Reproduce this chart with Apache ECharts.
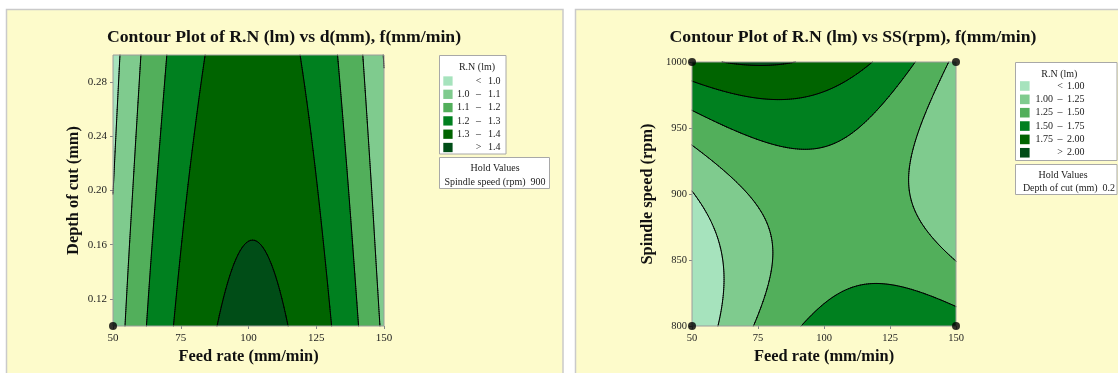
<!DOCTYPE html>
<html>
<head>
<meta charset="utf-8">
<script src="https://cdn.jsdelivr.net/npm/echarts@6/dist/echarts.min.js"></script>
<style>
  html, body { margin: 0; padding: 0; background: #ffffff; }
  #chart { width: 1118px; height: 373px; }
</style>
</head>
<body>
<div id="chart"></div>
<script>
// ---- Data -------------------------------------------------------------
// Feed rate nodes (mm/min), shared by both response grids
const feedRates = [50, 75, 100, 125, 150];

// Left plot: R.N (lm) over depth of cut x feed rate, spindle speed held at 900 rpm
const depthsOfCut = [0.10, 0.15, 0.20, 0.25, 0.30];
const rnByDepthFeed = [
  [1.036, 1.322, 1.425, 1.344, 1.079],   // d = 0.10 mm
  [1.018, 1.302, 1.405, 1.324, 1.058],   // d = 0.15 mm
  [0.999, 1.282, 1.385, 1.304, 1.038],   // d = 0.20 mm
  [0.981, 1.262, 1.364, 1.284, 1.017],   // d = 0.25 mm
  [0.963, 1.243, 1.344, 1.264, 0.996]    // d = 0.30 mm
];

// Right plot: R.N (lm) over spindle speed x feed rate, depth of cut held at 0.2 mm
const spindleSpeeds = [800, 850, 900, 950, 1000];
const rnBySpeedFeed = [
  [0.783, 1.278, 1.585, 1.704, 1.635],   // 800 rpm
  [0.792, 1.188, 1.395, 1.414, 1.245],   // 850 rpm
  [0.987, 1.283, 1.390, 1.310, 1.046],   // 900 rpm
  [1.367, 1.563, 1.571, 1.391, 1.027],   // 950 rpm
  [1.933, 2.029, 1.937, 1.657, 1.189]    // 1000 rpm
];

// Contour levels and legend labels
const levelsLeft = [1.0, 1.1, 1.2, 1.3, 1.4];
const levelsRight = [1.00, 1.25, 1.50, 1.75, 2.00];
const labelsLeft = [['<', '1.0'], ['1.0', '1.1'], ['1.1', '1.2'], ['1.2', '1.3'], ['1.3', '1.4'], ['>', '1.4']];
const labelsRight = [['<', '1.00'], ['1.00', '1.25'], ['1.25', '1.50'], ['1.50', '1.75'], ['1.75', '2.00'], ['>', '2.00']];
const bandColors = ['#a6e3bd', '#7fcb8e', '#52af5b', '#00801f', '#006400', '#004d17'];

// Design points
const designPointsLeft = [[50, 0.10]];
const designPointsRight = [[50, 800], [50, 1000], [150, 800], [150, 1000]];

// Tick labels
const feedTicks = [50, 75, 100, 125, 150];
const depthTicks = [0.12, 0.16, 0.20, 0.24, 0.28];
const speedTicks = [800, 850, 900, 950, 1000];

// ---- Smooth response surface through the grid nodes (Catmull-Rom) ------
function makeSurface(xs, ys, z) {
  const ext = a => {
    const n = a.length;
    return [3 * a[0] - 3 * a[1] + a[2], ...a, 3 * a[n - 1] - 3 * a[n - 2] + a[n - 3]];
  };
  const rows = z.map(ext);
  const cols = rows[0].map((_, i) => ext(rows.map(r => r[i])));
  const cr = (p0, p1, p2, p3, t) =>
    0.5 * (2 * p1 + (p2 - p0) * t + (2 * p0 - 5 * p1 + 4 * p2 - p3) * t * t +
           (3 * p1 - p0 - 3 * p2 + p3) * t * t * t);
  const dx = xs[1] - xs[0], dy = ys[1] - ys[0];
  return function (x, y) {
    const u = (x - xs[0]) / dx, v = (y - ys[0]) / dy;
    const i = Math.min(Math.max(Math.floor(u), 0), xs.length - 2);
    const j = Math.min(Math.max(Math.floor(v), 0), ys.length - 2);
    const t = u - i, s = v - j;
    const q = [];
    for (let a = 0; a < 4; a++) {
      const c = cols[i + a];
      q.push(cr(c[j], c[j + 1], c[j + 2], c[j + 3], s));
    }
    return cr(q[0], q[1], q[2], q[3], t);
  };
}

// ---- Filled contours + contour lines (marching squares) ---------------
function buildContours(api, surface, xr, yr, levels, steps) {
  const P = [], V = [];
  for (let j = 0; j <= steps; j++) {
    const y = yr[0] + (yr[1] - yr[0]) * j / steps;
    const pr = [], vr = [];
    for (let i = 0; i <= steps; i++) {
      const x = xr[0] + (xr[1] - xr[0]) * i / steps;
      pr.push(api.coord([x, y]));
      vr.push(surface(x, y));
    }
    P.push(pr); V.push(vr);
  }
  const f = p => p[0].toFixed(2) + ' ' + p[1].toFixed(2);
  const fills = [], lines = [];
  levels.forEach(L => {
    let fd = '', ld = '';
    for (let j = 0; j < steps; j++) {
      let runStart = -1;
      for (let i = 0; i <= steps; i++) {
        const full = i < steps && V[j][i] >= L && V[j][i + 1] >= L &&
                     V[j + 1][i] >= L && V[j + 1][i + 1] >= L;
        if (full) { if (runStart < 0) runStart = i; continue; }
        if (runStart >= 0) {
          fd += 'M' + f(P[j][runStart]) + 'L' + f(P[j][i]) + 'L' + f(P[j + 1][i]) +
                'L' + f(P[j + 1][runStart]) + 'Z';
          runStart = -1;
        }
        if (i === steps) break;
        const idx = [[j, i], [j, i + 1], [j + 1, i + 1], [j + 1, i]];
        const poly = [];
        for (let k = 0; k < 4; k++) {
          const a = idx[k], b = idx[(k + 1) % 4];
          const va = V[a[0]][a[1]], vb = V[b[0]][b[1]];
          const ina = va >= L, inb = vb >= L;
          if (ina) poly.push([P[a[0]][a[1]], false]);
          if (ina !== inb) {
            const t = (L - va) / (vb - va);
            const pa = P[a[0]][a[1]], pb = P[b[0]][b[1]];
            poly.push([[pa[0] + (pb[0] - pa[0]) * t, pa[1] + (pb[1] - pa[1]) * t], true]);
          }
        }
        if (poly.length < 3) continue;
        fd += 'M' + poly.map(q => f(q[0])).join('L') + 'Z';
        for (let k = 0; k < poly.length; k++) {
          const q1 = poly[k], q2 = poly[(k + 1) % poly.length];
          if (q1[1] && q2[1]) ld += 'M' + f(q1[0]) + 'L' + f(q2[0]);
        }
      }
    }
    fills.push(fd); lines.push(ld);
  });
  return { fills, lines };
}

function contourRenderer(surface, xr, yr, levels) {
  return function (params, api) {
    if (params.dataIndex !== 0) return null;
    const tl = api.coord([xr[0], yr[1]]);
    const br = api.coord([xr[1], yr[0]]);
    const rect = { x: tl[0], y: tl[1], width: br[0] - tl[0], height: br[1] - tl[1] };
    const c = buildContours(api, surface, xr, yr, levels, 130);
    const children = [{ type: 'rect', shape: rect, style: { fill: bandColors[0] } }];
    c.fills.forEach((d, k) => {
      if (d) children.push({ type: 'path', shape: { pathData: d }, style: { fill: bandColors[k + 1], stroke: 'none' } });
    });
    c.lines.forEach(d => {
      if (d) children.push({ type: 'path', shape: { pathData: d },
        style: { fill: 'none', stroke: '#000000', lineWidth: 1, lineCap: 'round', lineJoin: 'round' } });
    });
    children.push({ type: 'rect', shape: rect, style: { fill: 'none', stroke: '#9c9c9c', lineWidth: 1 } });
    return { type: 'group', children };
  };
}

function gridPoints(xs, ys, z) {
  const out = [];
  ys.forEach((y, j) => xs.forEach((x, i) => out.push([x, y, z[j][i]])));
  return out;
}

// ---- Legend / hold-value boxes ---------------------------------------
const SERIF = "'Liberation Serif', 'Times New Roman', serif";
function legendGraphics(o) {
  const els = [];
  els.push({ type: 'rect', z: 10, shape: { x: o.x, y: o.y, width: o.w, height: o.h },
    style: { fill: '#ffffff', stroke: '#a8a8a8', lineWidth: 1 } });
  els.push({ type: 'text', z: 11, x: o.titleX, y: o.titleY,
    style: { text: 'R.N (lm)', fill: '#222', font: '10px ' + SERIF, textAlign: 'center', textVerticalAlign: 'middle' } });
  o.labels.forEach((lab, k) => {
    const cy = o.rowY0 + k * o.rowStep;
    els.push({ type: 'rect', z: 11, shape: { x: o.swX, y: cy - o.sw / 2, width: o.sw, height: o.sw },
      style: { fill: bandColors[k] } });
    const ts = (text, x, align) => ({ type: 'text', z: 11, x, y: cy,
      style: { text, fill: '#222', font: '10px ' + SERIF, textAlign: align, textVerticalAlign: 'middle' } });
    if (lab[0] === '<' || lab[0] === '>') {
      els.push(ts(lab[0], o.dashX, 'center'));
    } else {
      els.push(ts(lab[0], o.lowRight, 'right'));
      els.push(ts('\u2013', o.dashX, 'center'));
    }
    els.push(ts(lab[1], o.highLeft, 'left'));
  });
  els.push({ type: 'rect', z: 10, shape: { x: o.x, y: o.holdY, width: o.holdW, height: o.holdH },
    style: { fill: '#ffffff', stroke: '#a8a8a8', lineWidth: 1 } });
  els.push({ type: 'text', z: 11, x: o.holdCx, y: o.holdY + o.holdH * 0.35,
    style: { text: 'Hold Values', fill: '#222', font: '10px ' + SERIF, textAlign: 'center', textVerticalAlign: 'middle' } });
  els.push({ type: 'text', z: 11, x: o.holdCx2, y: o.holdY + o.holdH * 0.8,
    style: { text: o.holdText, fill: '#222', font: '10px ' + SERIF, textAlign: 'center', textVerticalAlign: 'middle' } });
  return els;
}

const surfLeft = makeSurface(feedRates, depthsOfCut, rnByDepthFeed);
const surfRight = makeSurface(feedRates, spindleSpeeds, rnBySpeedFeed);

const axisLabelStyle = (size) => ({ fontFamily: SERIF, fontSize: size, color: '#222' });
const axisNameStyle = { fontFamily: SERIF, fontSize: 16.4, fontWeight: 'bold', color: '#111' };
const tickStyle = { show: true, length: 3, lineStyle: { color: '#888' } };

const chart = echarts.init(document.getElementById('chart'), null, { renderer: 'canvas' });
chart.setOption({
  animation: false,
  backgroundColor: '#ffffff',
  graphic: [
    { type: 'rect', z: -10, shape: { x: 6.5, y: 9.5, width: 556.5, height: 372 },
      style: { fill: '#fdfbcb', stroke: '#cacaca', lineWidth: 1.5 } },
    { type: 'rect', z: -10, shape: { x: 575.5, y: 9.5, width: 560, height: 372 },
      style: { fill: '#fdfbcb', stroke: '#cacaca', lineWidth: 1.5 } },
    { type: 'text', z: 5, x: 284, y: 37,
      style: { text: 'Contour Plot of R.N (lm) vs d(mm), f(mm/min)', fill: '#111',
               font: 'bold 17.7px ' + SERIF, textAlign: 'center', textVerticalAlign: 'middle' } },
    { type: 'text', z: 5, x: 853, y: 37,
      style: { text: 'Contour Plot of R.N (lm) vs SS(rpm), f(mm/min)', fill: '#111',
               font: 'bold 17.7px ' + SERIF, textAlign: 'center', textVerticalAlign: 'middle' } },
    ...legendGraphics({ x: 439.5, y: 55.5, w: 66.5, h: 98.5, titleX: 477, titleY: 67.5,
      labels: labelsLeft, rowY0: 81, rowStep: 13.3, swX: 443.3, sw: 9.3,
      lowRight: 469.5, dashX: 478.5, highLeft: 488,
      holdY: 157.5, holdW: 110, holdH: 31, holdCx: 495, holdCx2: 495,
      holdText: 'Spindle speed (rpm)  900' }),
    ...legendGraphics({ x: 1015.5, y: 62.5, w: 101.5, h: 98, titleX: 1059.3, titleY: 74,
      labels: labelsRight, rowY0: 86, rowStep: 13.35, swX: 1020, sw: 9.6,
      lowRight: 1053, dashX: 1060, highLeft: 1067,
      holdY: 164.5, holdW: 101.5, holdH: 30, holdCx: 1063, holdCx2: 1069,
      holdText: 'Depth of cut (mm)  0.2' })
  ],
  grid: [
    { left: 113, top: 55, width: 271, height: 271, outerBoundsMode: 'none' },
    { left: 692, top: 62, width: 264, height: 264, outerBoundsMode: 'none' }
  ],
  xAxis: [
    { gridIndex: 0, type: 'value', min: 50, max: 150, interval: 25,
      name: 'Feed rate (mm/min)', nameLocation: 'middle', nameGap: 23, nameTextStyle: axisNameStyle,
      axisLine: { show: false }, axisTick: tickStyle, splitLine: { show: false },
      axisLabel: Object.assign({ margin: 7, customValues: feedTicks, formatter: v => String(v) }, axisLabelStyle(11)) },
    { gridIndex: 1, type: 'value', min: 50, max: 150, interval: 25,
      name: 'Feed rate (mm/min)', nameLocation: 'middle', nameGap: 22, nameTextStyle: axisNameStyle,
      axisLine: { show: false }, axisTick: tickStyle, splitLine: { show: false },
      axisLabel: Object.assign({ margin: 7, customValues: feedTicks, formatter: v => String(v) }, axisLabelStyle(10.5)) }
  ],
  yAxis: [
    { gridIndex: 0, type: 'value', min: 0.10, max: 0.30,
      name: 'Depth of cut (mm)', nameLocation: 'middle', nameGap: 31, nameTextStyle: axisNameStyle,
      axisLine: { show: false }, splitLine: { show: false },
      axisTick: Object.assign({ customValues: depthTicks }, tickStyle),
      axisLabel: Object.assign({ margin: 6, customValues: depthTicks, formatter: v => v.toFixed(2) }, axisLabelStyle(11)) },
    { gridIndex: 1, type: 'value', min: 800, max: 1000, interval: 50,
      name: 'Spindle speed (rpm)', nameLocation: 'middle', nameGap: 36, nameTextStyle: axisNameStyle,
      axisLine: { show: false }, splitLine: { show: false }, axisTick: tickStyle,
      axisLabel: Object.assign({ margin: 5, customValues: speedTicks, formatter: v => String(v) }, axisLabelStyle(10.5)) }
  ],
  series: [
    { type: 'custom', name: 'R.N (lm)', xAxisIndex: 0, yAxisIndex: 0, silent: true,
      data: gridPoints(feedRates, depthsOfCut, rnByDepthFeed), encode: { x: 0, y: 1 },
      renderItem: contourRenderer(surfLeft, [50, 150], [0.10, 0.30], levelsLeft) },
    { type: 'custom', name: 'R.N (lm)', xAxisIndex: 1, yAxisIndex: 1, silent: true,
      data: gridPoints(feedRates, spindleSpeeds, rnBySpeedFeed), encode: { x: 0, y: 1 },
      renderItem: contourRenderer(surfRight, [50, 150], [800, 1000], levelsRight) },
    { type: 'scatter', xAxisIndex: 0, yAxisIndex: 0, z: 5, clip: false, silent: true,
      symbolSize: 8, itemStyle: { color: '#000' }, data: designPointsLeft },
    { type: 'scatter', xAxisIndex: 1, yAxisIndex: 1, z: 5, clip: false, silent: true,
      symbolSize: 8, itemStyle: { color: '#000' }, data: designPointsRight }
  ]
});
</script>
</body>
</html>
